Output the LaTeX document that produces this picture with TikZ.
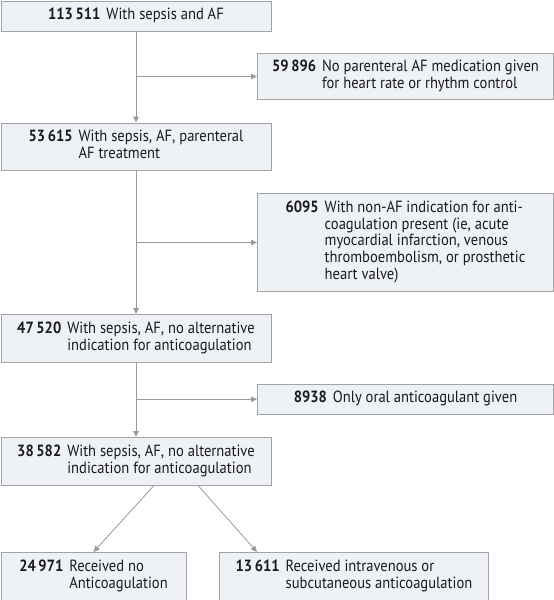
\documentclass[tikz,border=0pt]{standalone}
\usepackage{fontspec}
\setmainfont{PT Sans}[FakeStretch=0.9]
\usetikzlibrary{arrows.meta,calc}
\definecolor{boxfill}{HTML}{EEF1F5}
\definecolor{boxdraw}{HTML}{A3A3A3}
\definecolor{arrowc}{HTML}{9A9A9A}
\definecolor{txt}{HTML}{1A1A1A}
\newcommand{\fcrow}[2]{\begin{tabular}{@{}r@{\hspace{6pt}}l@{}}#1 & #2\end{tabular}}
\begin{document}
\begin{tikzpicture}[x=1pt,y=1pt,
  box/.style={draw=boxdraw, fill=boxfill, line width=1pt, anchor=north west,
    inner sep=0pt, align=center, text=txt, font=\fontsize{16.2}{16.8}\selectfont},
  conn/.style={draw=arrowc, line width=0.8pt, -{Triangle[length=6pt,width=5.5pt]}},
  plain/.style={draw=arrowc, line width=0.8pt}]
\useasboundingbox (0,0) rectangle (554,-600);
\node[box, minimum width=270pt, minimum height=30pt] (b1) at (0.5,-0.5)
  {\fcrow{\textbf{113\,511}}{With sepsis and AF}};
\node[box, minimum width=296pt, minimum height=46pt] (b2) at (257,-53)
  {\fcrow{\textbf{59\,896}}{No parenteral AF medication given\\ & for heart rate or rhythm control}};
\node[box, minimum width=270pt, minimum height=47.5pt] (b3) at (0.5,-122.5)
  {\fcrow{\textbf{53\,615}}{With sepsis, AF, parenteral\\ & AF treatment}};
\node[box, minimum width=296pt, minimum height=98pt] (b4) at (257,-193)
  {\fcrow{\textbf{6095}}{With non-AF indication for anti-\\ & coagulation present (ie, acute\\ & myocardial infarction, venous\\ & thromboembolism, or prosthetic\\ & heart valve)}};
\node[box, minimum width=270pt, minimum height=48pt] (b5) at (0.5,-314)
  {\fcrow{\textbf{47\,520}}{With sepsis, AF, no alternative\\ & indication for anticoagulation}};
\node[box, minimum width=296pt, minimum height=29.5pt] (b6) at (257,-384)
  {\fcrow{\textbf{8938}}{Only oral anticoagulant given}};
\node[box, minimum width=270pt, minimum height=48pt] (b7) at (0.5,-437)
  {\fcrow{\textbf{38\,582}}{With sepsis, AF, no alternative\\ & indication for anticoagulation}};
\node[box, minimum width=185pt, minimum height=47.5pt] (b8) at (0.5,-552)
  {\fcrow{\textbf{24\,971}}{Received no\\ & Anticoagulation}};
\node[box, minimum width=269pt, minimum height=47.5pt] (b9) at (219,-552)
  {\fcrow{\textbf{13\,611}}{Received intravenous or\\ & subcutaneous anticoagulation}};
% trunk
\draw[conn] (b1.south) -- (b3.north);
\coordinate (j1) at (b1.south |- b2.west);
\draw[conn] (j1) -- (b2.west);
\draw[conn] (b3.south) -- (b5.north);
\coordinate (j2) at (b3.south |- b4.west);
\draw[conn] (j2) -- (b4.west);
\draw[conn] (b5.south) -- (b7.north);
\coordinate (j3) at (b5.south |- b6.west);
\draw[conn] (j3) -- (b6.west);
% split
\coordinate (s1) at ($(b7.south)+(17.5,0)$);
\coordinate (s2) at ($(b7.south)+(62.5,0)$);
\coordinate (t2) at ($(b9.north west)+(38,0)$);
\draw[conn] (s1) -- (b8.north);
\draw[conn] (s2) -- (t2);
\end{tikzpicture}
\end{document}
